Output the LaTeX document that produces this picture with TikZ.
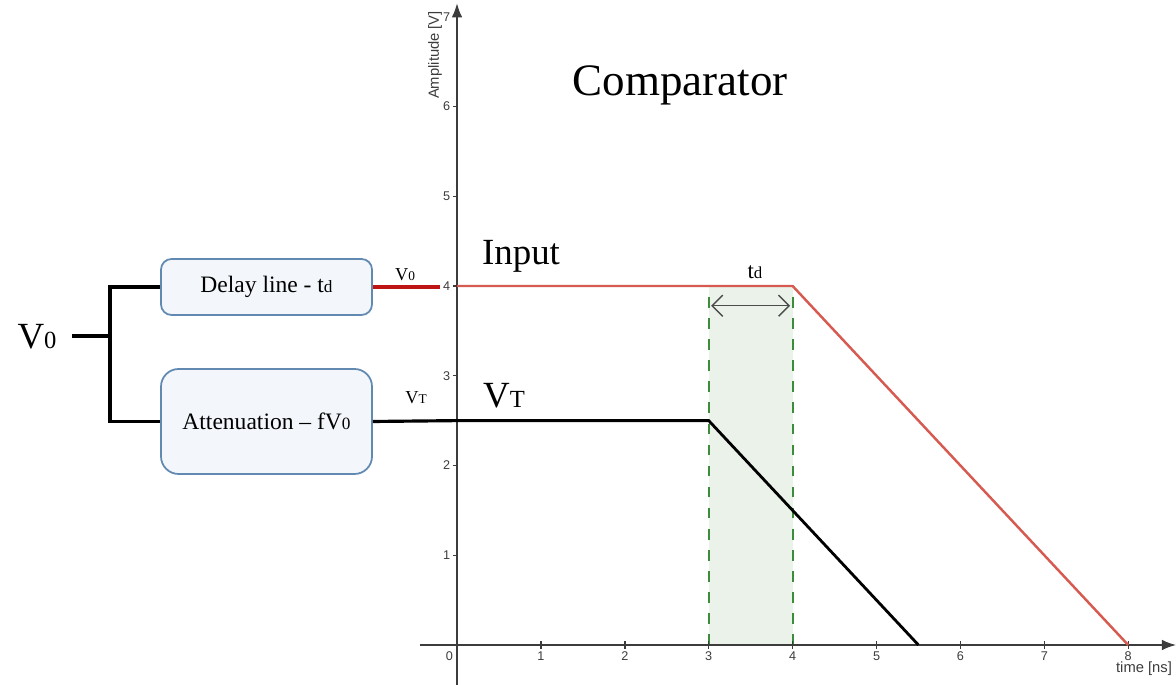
\documentclass[tikz,border=0pt]{standalone}
\usepackage{fontspec}
\setmainfont{Liberation Serif}
\setsansfont{Liberation Sans}
\usetikzlibrary{arrows.meta,positioning}
\definecolor{boxblue}{RGB}{98,137,178}
\definecolor{boxfill}{RGB}{243,247,251}
\definecolor{inred}{RGB}{214,90,80}
\definecolor{darkred}{RGB}{190,20,20}
\definecolor{zonegreen}{RGB}{60,140,60}
\definecolor{zonefill}{RGB}{234,242,234}
\definecolor{axisgrey}{RGB}{60,60,60}
\begin{document}
\begin{tikzpicture}[
    blockbox/.style={draw=boxblue,fill=boxfill,line width=0.5pt,
                     minimum width=2.11cm,align=center,
                     font=\fontsize{6.7}{8}\selectfont},
    wire/.style={line width=0.9pt,black},
    ticklbl/.style={font=\sffamily\fontsize{3.6}{4}\selectfont,text=axisgrey,inner sep=1pt},
    biglbl/.style={font=\fontsize{10.5}{12}\selectfont,inner sep=0pt}]
  \useasboundingbox (0,0) rectangle (11.76,6.85);

  % Left part: splitter and blocks
  \node[biglbl] (vin) at (0.37,3.48) {V{\fontsize{7}{8}\selectfont 0}};
  \node[blockbox,rounded corners=3pt,minimum height=0.56cm]
        (delay) at (2.665,3.98) {Delay line - t{\fontsize{4.9}{6}\selectfont d}};
  \node[blockbox,rounded corners=5pt,minimum height=1.05cm]
        (atten) at (2.665,2.635) {Attenuation -- fV{\fontsize{4.9}{6}\selectfont 0}};
  \coordinate (vstub) at (0.72,3.49);
  \coordinate (split) at (1.10,3.49);
  \draw[wire] (vstub) -- (split);
  \draw[wire] (delay.west) -| (split) |- (atten.west);

  % Plot part
  \begin{scope}[shift={(4.57,0.40)},xscale=0.839,yscale=0.8975]
    % shaded delay window
    \fill[zonefill] (3,0) rectangle (4,4);
    \draw[zonegreen,dashed,line width=0.6pt] (3,0) -- (3,4);
    \draw[zonegreen,dashed,line width=0.6pt] (4,0) -- (4,4);

    % axes
    \draw[axisgrey,line width=0.45pt,-{Latex[length=4pt,width=3pt]}] (-0.44,0) -- (8.57,0);
    \draw[axisgrey,line width=0.45pt,-{Latex[length=4pt,width=3pt]}] (0,-0.45) -- (0,7.15);
    \foreach \t in {1,...,8} {
      \draw[axisgrey,line width=0.4pt] (\t,-0.04) -- (\t,0.04);
      \node[ticklbl,below] at (\t,-0.03) {\t};
    }
    \foreach \a in {1,...,7} {
      \draw[axisgrey,line width=0.4pt] (-0.05,\a) -- (0,\a);
      \node[ticklbl,left] at (-0.03,\a) {\a};
    }
    \node[ticklbl,below left] at (0,-0.03) {0};

    % signals
    \coordinate (inA) at (0,4);
    \coordinate (inB) at (4,4);
    \coordinate (inC) at (8,0);
    \coordinate (vtA) at (0,2.5);
    \coordinate (vtB) at (3,2.5);
    \coordinate (vtC) at (5.5,0);
    \draw[inred,line width=0.7pt] (inA) -- (inB) -- (inC);
    \draw[black,line width=0.8pt] (vtA) -- (vtB) -- (vtC);

    % delay arrow
    \coordinate (tdL) at (3.03,3.78);
    \coordinate (tdR) at (3.97,3.78);
    \draw[black!70,line width=0.4pt,{Straight Barb[length=3pt]}-{Straight Barb[length=3pt]}] (tdL) -- (tdR);
  \end{scope}

  % feed lines into the plot
  \coordinate (redend) at (4.40,3.98);
  \draw[darkred,line width=1.1pt] (delay.east) -- (redend);
  \draw[wire] (atten.east) -- (vtA);

  % labels
  \node[font=\fontsize{12.8}{14}\selectfont] (title) at (6.80,6.00) {Comparator};
  \node[biglbl] (inlbl) at (5.21,4.29) {Input};
  \node[biglbl] (vtlbl) at (5.04,2.89) {V{\fontsize{7}{8}\selectfont T}};
  \node[font=\fontsize{6.5}{8}\selectfont] (tdlbl) at (7.55,4.13) {t{\fontsize{4.8}{6}\selectfont d}};
  \node[font=\fontsize{5.2}{6}\selectfont] (v0lbl) at (4.05,4.10) {V{\fontsize{3.8}{5}\selectfont 0}};
  \node[font=\fontsize{5.2}{6}\selectfont] (vtsml) at (4.16,2.87) {V{\fontsize{3.8}{5}\selectfont T}};
  \node[font=\sffamily\fontsize{4.2}{5}\selectfont,text=axisgrey,rotate=90] (ylbl) at (4.35,6.30) {Amplitude [V]};
  \node[font=\sffamily\fontsize{4.2}{5}\selectfont,text=axisgrey] (xlbl) at (11.44,0.165) {time [ns]};
\end{tikzpicture}
\end{document}
